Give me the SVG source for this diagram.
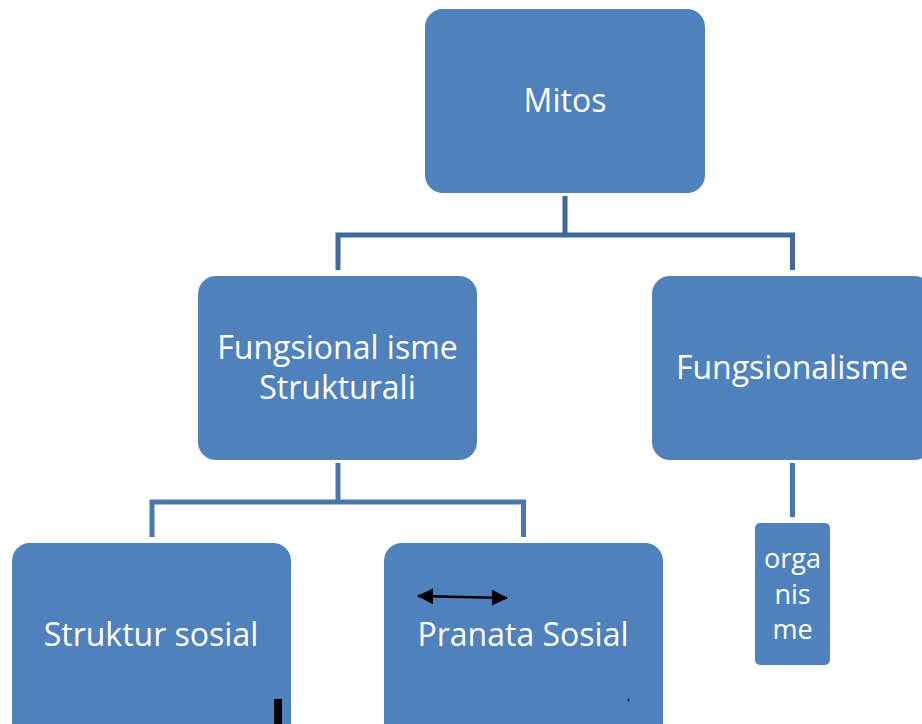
<svg xmlns="http://www.w3.org/2000/svg" width="922" height="724" viewBox="0 0 922 724">
  <style>
    .box { fill: #4f81bd; }
    .lbl { font-family: "Open Sans", "Liberation Sans", sans-serif; fill: #ffffff; text-anchor: middle; font-size: 32px; }
    .small { font-size: 27px; }
    .link1 { fill: none; stroke: #41699d; stroke-width: 5; }
    .link2 { fill: none; stroke: #4a76ae; stroke-width: 5; }
  </style>
  <defs>
    <marker id="head" viewBox="0 0 10 10" refX="9.5" refY="5" markerWidth="6.4" markerHeight="6.4" orient="auto-start-reverse" markerUnits="strokeWidth">
      <path d="M0,0 L10,5 L0,10 z" fill="#000000"/>
    </marker>
  </defs>

  <rect width="922" height="724" fill="#ffffff"/>

  <!-- connectors -->
  <g id="connectors">
    <path class="link1" d="M565,196 V235 M338,270 V235 H792.5 V270"/>
    <path class="link2" d="M338,463 V502 M152,537 V502 H523.5 V537"/>
    <path class="link2" d="M792.5,463 V517"/>
  </g>

  <g id="mitos">
    <rect class="box" x="425" y="9" width="280" height="184" rx="18"/>
    <text class="lbl" x="565" y="112">Mitos</text>
  </g>

  <g id="fungsionalisme-struktural">
    <rect class="box" x="198" y="276" width="279" height="184" rx="18"/>
    <text class="lbl" x="337.5" y="359">Fungsional isme</text>
    <text class="lbl" x="337.5" y="399">Strukturali</text>
  </g>

  <g id="fungsionalisme">
    <rect class="box" x="652" y="276" width="280" height="184" rx="18"/>
    <text class="lbl" x="792" y="379">Fungsionalisme</text>
  </g>

  <g id="struktur-sosial">
    <rect class="box" x="12" y="543" width="279" height="200" rx="18"/>
    <text class="lbl" x="151" y="646">Struktur sosial</text>
    <rect x="274" y="699" width="8" height="25" fill="#000000"/>
  </g>

  <g id="pranata-sosial">
    <rect class="box" x="384" y="543" width="279" height="200" rx="18"/>
    <line x1="418" y1="596" x2="507" y2="598" stroke="#000000" stroke-width="2.5" marker-start="url(#head)" marker-end="url(#head)"/>
    <text class="lbl" x="523" y="646">Pranata Sosial</text>
    <rect x="627.5" y="698.5" width="2" height="3" fill="#1a2a40"/>
  </g>

  <g id="organisme">
    <rect class="box" x="755" y="523" width="75" height="142" rx="5"/>
    <text class="lbl small" x="792.5" y="568">orga</text>
    <text class="lbl small" x="792.5" y="604">nis</text>
    <text class="lbl small" x="792.5" y="639">me</text>
  </g>
</svg>
